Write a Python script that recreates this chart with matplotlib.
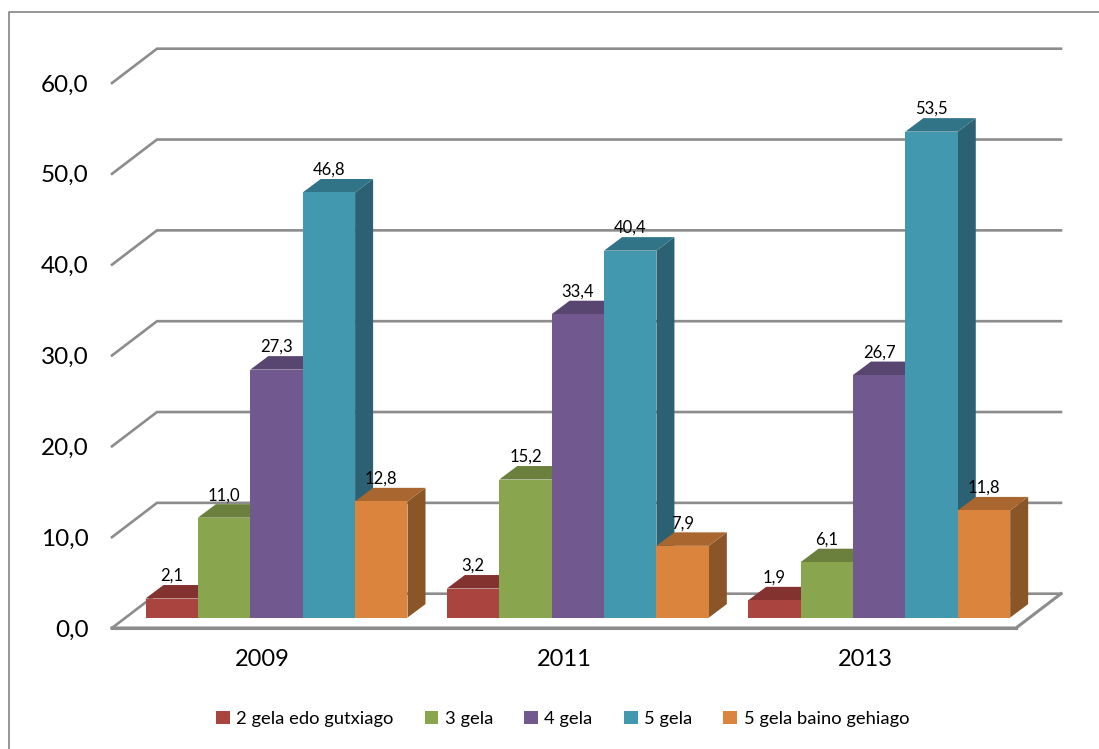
import matplotlib
matplotlib.use('Agg')
import matplotlib.pyplot as plt
from matplotlib.lines import Line2D

plt.rcParams['font.family'] = ['Lato', 'DejaVu Sans']

years = ['2009', '2011', '2013']
series = ['2 gela edo gutxiago', '3 gela', '4 gela', '5 gela', '5 gela baino gehiago']
gela2 = [2.1, 3.2, 1.9]
gela3 = [11.0, 15.2, 6.1]
gela4 = [27.3, 33.4, 26.7]
gela5 = [46.8, 40.4, 53.5]
gela5plus = [12.8, 7.9, 11.8]
ticks = [0, 10, 20, 30, 40, 50, 60]
tick_labels = ['0,0', '10,0', '20,0', '30,0', '40,0', '50,0', '60,0']

front = ['#A9443F', '#89A54E', '#71588F', '#4198AF', '#DB843D']
top = ['#833230', '#6B803D', '#584570', '#317487', '#A9672F']
side = ['#6E2A28', '#566733', '#47375B', '#2B6172', '#8A5628']
grid_col = '#8C8C8C'

W, H = 1099, 749
fig = plt.figure(figsize=(W / 100, H / 100), dpi=100)
ax = fig.add_axes([112 / W, 1 - 628 / H, 904 / W, 545 / H])
ax.set_xlim(0, 3)
ax.set_ylim(0, 60)
for s in ax.spines.values():
    s.set_visible(False)

# fake 3d: depth of the walls and bars in data units
wall_dx = 45 / 904 * 3
wall_dy = 34.3 / 545 * 60
bar_dx = 18 / 904 * 3
bar_dy = 13.5 / 545 * 60
base = 10.4 / 545 * 60
bar_w = 52.4 / 904 * 3
start = 33.5 / 904 * 3

# back wall + side wall
for t in ticks:
    ax.plot([0, wall_dx, 3 + wall_dx], [t, t + wall_dy, t + wall_dy], color=grid_col,
            lw=1.9, clip_on=False, zorder=1, solid_joinstyle='miter')
# floor front edge
ax.plot([0, 3, 3 + wall_dx], [0, 0, wall_dy], color=grid_col, lw=2.2, clip_on=False, zorder=1,
        solid_joinstyle='miter')
ax.plot([0, 3], [0, 0], color=grid_col, lw=2.2, clip_on=False, zorder=1)

values = [gela2, gela3, gela4, gela5, gela5plus]
z = 2
for i in range(len(years)):
    for j in range(len(series)):
        v = values[j][i]
        x0 = i + start + j * bar_w
        x1 = x0 + bar_w
        y1 = base + v
        ax.fill([x1, x1 + bar_dx, x1 + bar_dx, x1],
                [base, base + bar_dy, y1 + bar_dy, y1], color=side[j], lw=0, zorder=z, clip_on=False)
        ax.fill([x0, x0 + bar_dx, x1 + bar_dx, x1],
                [y1, y1 + bar_dy, y1 + bar_dy, y1], color=top[j], lw=0, zorder=z, clip_on=False)
        ax.bar(x0, v, width=bar_w, bottom=base, align='edge', color=front[j], lw=0, zorder=z,
               label=series[j] if i == 0 else None, clip_on=False)
        ax.annotate(f'{v:.1f}'.replace('.', ','), ((x0 + x1) / 2, y1 + bar_dy), xytext=(0, 6.5),
                    textcoords='offset points', ha='center', va='center', fontsize=12,
                    color='black', zorder=100, annotation_clip=False)
        z += 1

ax.set_xticks([0.5, 1.5, 2.5])
ax.set_xticklabels(years, fontsize=17)
ax.set_yticks(ticks)
ax.set_yticklabels(tick_labels, fontsize=17.5)
ax.tick_params(axis='x', length=0, pad=15)
ax.tick_params(axis='y', length=0, pad=17)

ax.legend(loc='center', bbox_to_anchor=(562.5 / W, 1 - 719 / H), bbox_transform=fig.transFigure,
          ncol=5, frameon=False, fontsize=13.2, handlelength=0.75, handleheight=0.75,
          handletextpad=0.35, columnspacing=1.7, borderpad=0)

# chart area border, cut off at right and bottom
fig.add_artist(Line2D([9 / W, 9 / W, 1], [0, 1 - 12 / H, 1 - 12 / H], color='#8E8E8E', lw=1.3))

plt.savefig('out.png', dpi=100)
